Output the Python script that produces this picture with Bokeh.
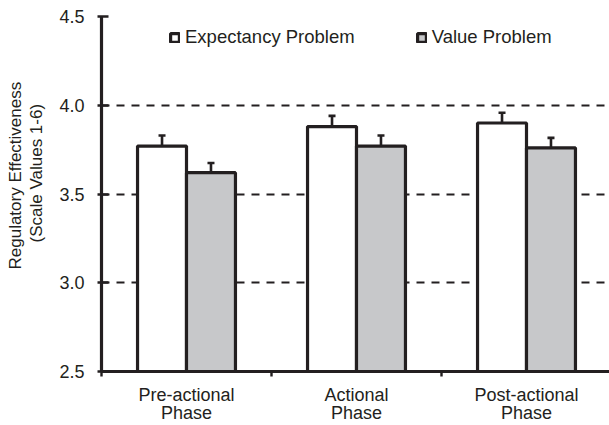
from bokeh.plotting import figure
from bokeh.models import (ColumnDataSource, FixedTicker, Range1d, Whisker, TeeHead,
                          Legend, LegendItem, Title)
from bokeh.transform import dodge
from bokeh.embed import file_html
from bokeh.resources import INLINE

# ---- data ----
phases = ["Pre-actional", "Actional", "Post-actional"]
phase_word = "Phase"
phase_pos = [0.5, 1.5, 2.5]
expectancy = [3.77, 3.88, 3.90]
expectancy_err = [0.06, 0.06, 0.058]
value_problem = [3.62, 3.77, 3.76]
value_err = [0.055, 0.06, 0.056]
y_ticks = [2.5, 3.0, 3.5, 4.0, 4.5]
grid_ticks = [3.0, 3.5, 4.0]
series_names = ["Expectancy Problem", "Value Problem"]
y_title_lines = ["Regulatory Effectiveness", "(Scale Values 1-6)"]

DARK = "#231f20"
GRAY = "#c7c8ca"
FONT = "Liberation Sans"
BAR_W = 0.288
OFF = BAR_W / 2

src = ColumnDataSource(dict(
    x=phase_pos,
    e=expectancy, e_up=[v + s for v, s in zip(expectancy, expectancy_err)],
    v=value_problem, v_up=[v + s for v, s in zip(value_problem, value_err)],
))

p = figure(width=609, height=425, output_backend="svg", toolbar_location=None,
           x_range=Range1d(0, 508 / 170), y_range=Range1d(2.5, 4.5),
           min_border_left=101, min_border_right=0, min_border_top=16, min_border_bottom=10)
p.outline_line_color = None
p.background_fill_color = "white"

r_e = p.vbar(x=dodge("x", -OFF), top="e", bottom=2.5, width=BAR_W, source=src,
             fill_color="white", line_color=DARK, line_width=3.2)
r_v = p.vbar(x=dodge("x", OFF), top="v", bottom=2.5, width=BAR_W, source=src,
             fill_color=GRAY, line_color=DARK, line_width=3.2)

for base, lo, up in [(dodge("x", -OFF), "e", "e_up"), (dodge("x", OFF), "v", "v_up")]:
    w = Whisker(base=base, lower=lo, upper=up, source=src, dimension="height",
                line_color=DARK, line_width=2.6,
                upper_head=TeeHead(size=7, line_color=DARK, line_width=2.6),
                lower_head=None)
    p.add_layout(w)

# grid
p.xgrid.visible = False
p.ygrid.ticker = FixedTicker(ticks=grid_ticks)
p.ygrid.grid_line_color = DARK
p.ygrid.grid_line_width = 2
p.ygrid.grid_line_dash = "8 7"

# y axis
p.yaxis.ticker = FixedTicker(ticks=y_ticks)
p.yaxis.major_label_overrides = {t: f"{t:.1f}" for t in y_ticks}
p.yaxis.axis_line_color = DARK
p.yaxis.axis_line_width = 3.2
p.yaxis.major_tick_line_color = DARK
p.yaxis.major_tick_line_width = 2.4
p.yaxis.major_tick_in = 7
p.yaxis.major_tick_out = 4
p.yaxis.minor_tick_line_color = None
p.yaxis.major_label_text_font = FONT
p.yaxis.major_label_text_font_size = "18px"
p.yaxis.major_label_text_color = DARK
p.yaxis.major_label_standoff = 13

# x axis with two-line category labels
p.xaxis.ticker = FixedTicker(ticks=phase_pos, minor_ticks=[0, 1, 2, 3])
p.xaxis.major_label_overrides = {pos: f"{lab}\n{phase_word}" for pos, lab in zip(phase_pos, phases)}
p.xaxis.axis_line_color = DARK
p.xaxis.axis_line_width = 3.2
p.xaxis.major_tick_line_color = None
p.xaxis.major_tick_in = 0
p.xaxis.major_tick_out = 0
p.xaxis.minor_tick_line_color = DARK
p.xaxis.minor_tick_line_width = 2.4
p.xaxis.minor_tick_in = 0
p.xaxis.minor_tick_out = 5
p.xaxis.major_label_text_font = FONT
p.xaxis.major_label_text_font_size = "18px"
p.xaxis.major_label_text_line_height = 0.9
p.xaxis.major_label_text_color = DARK
p.xaxis.major_label_standoff = 8

# y title: spacer + two single-line title panels on the left
p.add_layout(Title(text=" ", text_font_size="1px", standoff=8), "left")
for line in [y_title_lines[1], y_title_lines[0]]:
    p.add_layout(Title(text=line, align="left", offset=0,
                       text_font=FONT, text_font_size="17px", text_font_style="normal",
                       text_color=DARK, standoff=0), "left")
p.left[-2].offset = 129
p.left[-1].offset = 102

legend = Legend(items=[LegendItem(label=series_names[0], renderers=[r_e]),
                       LegendItem(label=series_names[1], renderers=[r_v])],
                location=(68, 323), orientation="horizontal",
                glyph_width=11, glyph_height=11, label_standoff=5, spacing=61,
                padding=0, margin=0, border_line_color=None, background_fill_alpha=0,
                label_text_font=FONT, label_text_font_size="18.5px", label_text_color=DARK)
p.add_layout(legend)

open("out.html", "w").write(file_html(p, INLINE))
